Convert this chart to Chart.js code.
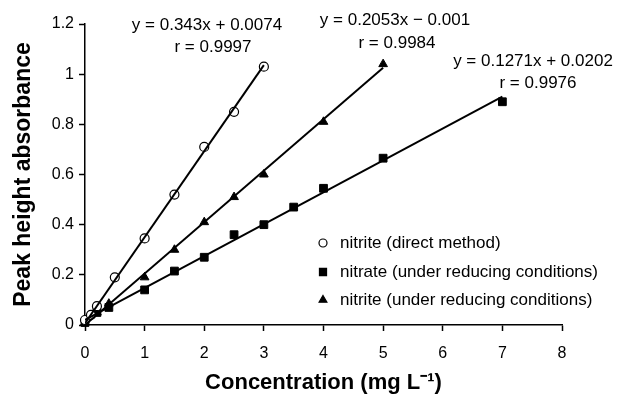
<!DOCTYPE html>
<html>
<head>
<meta charset="utf-8">
<script src="https://cdn.jsdelivr.net/npm/chart.js@4.4.0/dist/chart.umd.min.js"></script>
<style>
  html, body { margin: 0; padding: 0; background: #fff; }
  canvas { display: block; }
</style>
</head>
<body>
<canvas id="myChart" width="621" height="397"></canvas>
<script>
// Data
var directX = [0, 0.1, 0.2, 0.5, 1, 1.5, 2, 2.5, 3];
var directY = [0.02, 0.04, 0.075, 0.19, 0.345, 0.52, 0.71, 0.85, 1.03];

var nitrateX = [0, 0.2, 0.4, 1, 1.5, 2, 2.5, 3, 3.5, 4, 5, 7];
var nitrateY = [0.01, 0.05, 0.07, 0.14, 0.215, 0.27, 0.36, 0.40, 0.47, 0.545, 0.665, 0.89];

var reducedX = [0, 0.2, 0.4, 1, 1.5, 2, 2.5, 3, 4, 5];
var reducedY = [0.01, 0.05, 0.085, 0.19, 0.30, 0.41, 0.51, 0.60, 0.81, 1.04];

// fitted lines, start and end points
var directFitX = [0, 3];
var directFitY = [0.007, 1.036];
var reducedFitX = [0, 5];
var reducedFitY = [0, 1.026];
var nitrateFitX = [0, 7];
var nitrateFitY = [0.02, 0.91];

var xTicks = [0, 1, 2, 3, 4, 5, 6, 7, 8];
var yTicks = [0, 0.2, 0.4, 0.6, 0.8, 1, 1.2];

var legendLabels = [
	"nitrite (direct method)",
	"nitrate (under reducing conditions)",
	"nitrite (under reducing conditions)"
];

var equations = [
	["y = 0.343x + 0.0074", "r = 0.9997"],
	["y = 0.2053x \u2212 0.001", "r = 0.9984"],
	["y = 0.1271x + 0.0202", "r = 0.9976"]
];

function toPoints(xs, ys) {
	return xs.map(function(x, i) { return { x: x, y: ys[i] }; });
}

var FONT = "'Liberation Sans', Arial, Helvetica, sans-serif";

// markers used in the legend, matching the datasets
var legendMarkers = [
	{ style: "circle", radius: 4, fill: "#fff" },
	{ style: "rect", radius: 5, fill: "#000" },
	{ style: "triangle", radius: 4.5, fill: "#000" }
];

var annotations = {
	id: "annotations",
	afterDraw: function(chart) {
		var ctx = chart.ctx;
		ctx.save();
		ctx.fillStyle = "#000";
		ctx.font = "17px " + FONT;
		ctx.textBaseline = "middle";
		ctx.textAlign = "center";

		// equation labels
		var eqPos = [
			[[207, 25], [213, 47]],
			[[395, 20], [397, 43]],
			[[533, 61], [538, 83]]
		];
		equations.forEach(function(eq, i) {
			ctx.fillText(eq[0], eqPos[i][0][0], eqPos[i][0][1]);
			ctx.fillText(eq[1], eqPos[i][1][0], eqPos[i][1][1]);
		});

		// legend
		ctx.textAlign = "left";
		var rows = [243, 272, 300];
		legendLabels.forEach(function(label, i) {
			var m = legendMarkers[i];
			ctx.fillStyle = m.fill;
			ctx.strokeStyle = "#000";
			ctx.lineWidth = 1.2;
			Chart.helpers.drawPoint(ctx, { pointStyle: m.style, radius: m.radius, rotation: 0, borderWidth: 1.2 }, 323, rows[i]);
			ctx.fillStyle = "#000";
			ctx.fillText(label, 340, rows[i]);
		});
		ctx.restore();
	}
};

var ctx = document.getElementById("myChart");
var myChart = new Chart(ctx, {
	type: "scatter",
	data: {
		datasets: [
			{
				label: "fit direct",
				data: toPoints(directFitX, directFitY),
				showLine: true,
				borderColor: "#000",
				borderWidth: 2,
				pointRadius: 0
			},
			{
				label: "fit reduced",
				data: toPoints(reducedFitX, reducedFitY),
				showLine: true,
				borderColor: "#000",
				borderWidth: 2,
				pointRadius: 0
			},
			{
				label: "fit nitrate",
				data: toPoints(nitrateFitX, nitrateFitY),
				showLine: true,
				borderColor: "#000",
				borderWidth: 2,
				pointRadius: 0
			},
			{
				label: legendLabels[0],
				data: toPoints(directX, directY),
				pointStyle: "circle",
				pointRadius: 4.5,
				backgroundColor: "#fff",
				borderColor: "#000",
				borderWidth: 1.2,
				clip: false
			},
			{
				label: legendLabels[1],
				data: toPoints(nitrateX, nitrateY),
				pointStyle: "rect",
				pointRadius: 5.5,
				backgroundColor: "#000",
				borderColor: "#000",
				borderWidth: 1,
				clip: false
			},
			{
				label: legendLabels[2],
				data: toPoints(reducedX, reducedY),
				pointStyle: "triangle",
				pointRadius: 5,
				backgroundColor: "#000",
				borderColor: "#000",
				borderWidth: 1,
				clip: false
			}
		]
	},
	options: {
		responsive: false,
		animation: false,
		layout: { padding: { left: 6, right: 59, top: 24, bottom: 0 } },
		plugins: {
			legend: { display: false },
			tooltip: { enabled: false }
		},
		scales: {
			x: {
				type: "linear",
				min: 0,
				max: 8,
				afterBuildTicks: function(axis) {
					axis.ticks = xTicks.map(function(v) { return { value: v }; });
				},
				afterFit: function(axis) { axis.height = 72; },
				border: { display: true, color: "#000", width: 1.5 },
				grid: { drawOnChartArea: false, color: "#000", tickLength: 6, tickWidth: 1.5 },
				ticks: { color: "#000", font: { family: FONT, size: 16 }, padding: 13 },
				title: {
					display: true,
					text: "Concentration (mg L\u207B\u00B9)",
					color: "#000",
					font: { family: FONT, size: 22, weight: "bold" },
					padding: { top: 0, bottom: 1 }
				}
			},
			y: {
				min: 0,
				max: 1.2,
				afterBuildTicks: function(axis) {
					axis.ticks = yTicks.map(function(v) { return { value: v }; });
				},
				afterFit: function(axis) { axis.width = 79; },
				border: { display: true, color: "#000", width: 1.5 },
				grid: { drawOnChartArea: false, color: "#000", tickLength: 6, tickWidth: 1.5 },
				ticks: {
					color: "#000",
					font: { family: FONT, size: 16 },
					padding: 5,
					callback: function(value) { return String(Math.round(value * 10) / 10); }
				},
				title: {
					display: true,
					text: "Peak height absorbance",
					color: "#000",
					font: { family: FONT, size: 23, weight: "bold" },
					padding: { top: 4, bottom: 0 }
				}
			}
		}
	},
	plugins: [annotations]
});
</script>
</body>
</html>
